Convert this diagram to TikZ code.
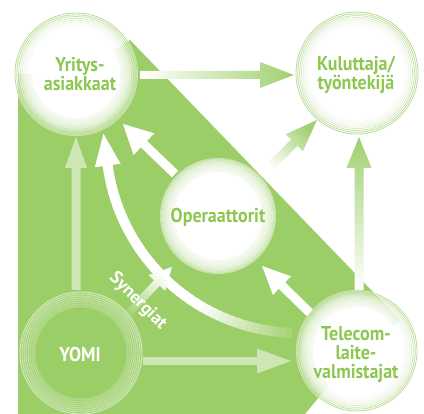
\documentclass[tikz,border=0pt]{standalone}
\usepackage{fontspec}
\newfontfamily\labfont[FakeStretch=0.9]{PT Sans}
\newfontfamily\synfont{PT Sans}
\usetikzlibrary{calc}
\definecolor{bggreen}{RGB}{155,206,103}
\definecolor{txtgreen}{RGB}{141,199,82}
\colorlet{ringgreen}{bggreen!75!white}

% fat arrow polygon: #1 style, #2 from, #3 tip, #4 shaft half width, #5 head half width, #6 head length
\newcommand\fatarrow[6]{%
  \path[#1] let \p1=(#2), \p2=(#3), \n1={atan2(\y2-\y1,\x2-\x1)}, \n2={veclen(\x2-\x1,\y2-\y1)} in
    [shift={(\p1)}, rotate=\n1] (0,-#4) -- ({\n2-#6},-#4) -- ({\n2-#6},-#5) -- (\n2,0)
    -- ({\n2-#6},#5) -- ({\n2-#6},#4) -- (0,#4) -- cycle;}

% white ringed circle: #1 centre, #2 outer radius
\newcommand\whitecirc[2]{%
  \fill[white, opacity=0.55] (#1) circle[radius=#2];
  \foreach \k in {0,...,7}{%
    \pgfmathsetmacro\op{0.95-0.1*\k}
    \draw[ringgreen, line width=0.8pt, opacity=\op] (#1) circle[radius={#2-1-1.8*\k}];}
  \foreach \k in {1,...,6}{\fill[white, opacity=0.25] (#1) circle[radius={44+2.2*\k}];}
  \fill[white] (#1) circle[radius=44];}

\tikzset{
  lab/.style={font=\labfont\bfseries\fontsize{20}{19}\selectfont, align=center, inner sep=0pt, text=txtgreen},
  hatched/.style={fill=white, fill opacity=0.5},
  solidw/.style={fill=white},
}

\begin{document}
\begin{tikzpicture}[x=1pt,y=-1pt]
\useasboundingbox (0,0) rectangle (424,414);
\fill[white] (0,0) rectangle (424,414);

% circle centres
\coordinate (Y) at (76,74);
\coordinate (K) at (357,73);
\coordinate (O) at (218,216);
\coordinate (T) at (357,351);
\coordinate (M) at (81,353);

% green background
\fill[bggreen] (18,414) -- (18,74) -- (Y) -- (130,40) -- (400,320) -- (T) -- (305,414) -- cycle;

% arrow end points
\coordinate (a1s) at ($(Y)+(64,1)$);
\coordinate (a1e) at ($(K)+(-63,2)$);
\coordinate (a2s) at ($(O)+(47,-44)$);
\coordinate (a2e) at ($(K)+(-40,47)$);
\coordinate (a3s) at ($(T)+(2,-61)$);
\coordinate (a3e) at ($(K)+(2,64)$);
\coordinate (a4s) at ($(M)+(-5,-63)$);
\coordinate (a4e) at ($(Y)+(0,63)$);
\coordinate (a5s) at ($(M)+(62,8)$);
\coordinate (a5e) at ($(T)+(-66,10)$);
\coordinate (a6s) at ($(O)+(-43,-42)$);
\coordinate (a6e) at ($(Y)+(47,50)$);
\coordinate (a7s) at ($(T)+(-47,-38)$);
\coordinate (a7e) at ($(O)+(44,50)$);
\coordinate (a8s) at ($(M)+(39,-31)$);
\coordinate (a8e) at ($(O)+(-46,51)$);
\coordinate (arcC) at ($(O)+(81,-76)$);

% hatched arrows from YOMI
\fatarrow{hatched}{a4s}{a4e}{4.5}{11}{31}
\fatarrow{hatched}{a5s}{a5e}{3.8}{12.5}{34}

% gradient arrows to Kuluttaja
\fatarrow{top color=bggreen!95!white, bottom color=white, shading angle=-90}{a1s}{a1e}{4}{13}{34}
\fatarrow{top color=bggreen!95!white, bottom color=white, shading angle=-45}{a2s}{a2e}{4.5}{12}{32}
\fatarrow{top color=bggreen!95!white, bottom color=white, shading angle=0}{a3s}{a3e}{4.5}{12.5}{31}

% big curved arrow Telecom -> Yritys
\foreach \a in {92,94,...,170}{%
  \pgfmathtruncatemacro\p{min(100,12+88*(\a-92)/28)}
  \draw[line width=10pt, white!\p!bggreen] ($(arcC)+(\a:193)$) arc[start angle=\a, end angle=\a+2.5, radius=193];}
\fill[white] ($(arcC)+(172.4:180)$) -- ($(arcC)+(172.4:193)+(262.4:32)$) -- ($(arcC)+(172.4:206)$) -- cycle;

% white arrows
\fatarrow{solidw}{a6s}{a6e}{4.5}{15}{29}
\fatarrow{solidw}{a7s}{a7e}{4.5}{13}{28}

% Synergiat arrow
\fatarrow{top color=white, bottom color=bggreen, shading angle=-43}{a8s}{a8e}{4}{11.5}{22}

% circles
\whitecirc{Y}{62}
\whitecirc{K}{62}
\whitecirc{O}{58}
\whitecirc{T}{61}
\fill[white, opacity=0.12] (M) circle[radius=62];
\foreach \k in {0,...,7}{%
  \pgfmathsetmacro\op{0.55-0.05*\k}
  \draw[white, line width=0.8pt, opacity=\op] (M) circle[radius={61-2*\k}];}
\fill[bggreen] (M) circle[radius=45];

% labels
\node[lab] (Ylab) at ($(Y)+(4,0)$) {Yritys-\\asiakkaat};
\node[lab] (Klab) at ($(K)+(-1,2)$) {Kuluttaja/\\työntekijä};
\node[lab] (Olab) at ($(O)+(0,1)$) {Operaattorit};
\node[lab] (Tlab) at ($(T)+(-1,4)$) {Telecom-\\laite-\\valmistajat};
\node[lab, text=white] (Mlab) at ($(M)+(-1,2)$) {YOMI};
\node[font=\synfont\bfseries\fontsize{18}{18}\selectfont, text=white, rotate=-45, inner sep=0pt] (syn) at (138,301) {Synergiat};
\end{tikzpicture}
\end{document}
